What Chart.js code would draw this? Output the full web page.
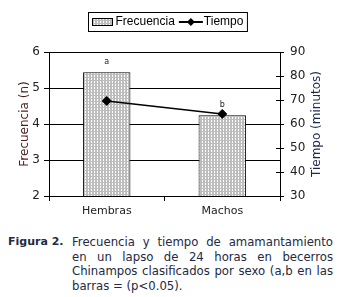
<!DOCTYPE html>
<html>
<head>
<meta charset="utf-8">
<script src="https://cdn.jsdelivr.net/npm/chart.js@4"></script>
<style>
  html, body { margin: 0; padding: 0; background: #fff; }
  #wrap { position: relative; width: 343px; height: 297px; overflow: hidden; }
  #chart { position: absolute; left: 0; top: 0; }
  .cap { position: absolute; top: 235px; font-family: "DejaVu Sans", Verdana, sans-serif; font-size: 11.7px; line-height: 14.7px; color: #232a45; }
  .cap-label { left: 8px; font-weight: bold; font-size: 11px; }
  .cap-text { left: 72px; width: 261px; }
  .cap-text div { text-align: justify; text-align-last: justify; white-space: nowrap; }
  .cap-text div.last { text-align-last: left; }
</style>
</head>
<body>
<div id="wrap">
  <canvas id="chart" width="343" height="222"></canvas>
  <div class="cap cap-label">Figura 2.</div>
  <div class="cap cap-text">
    <div>Frecuencia y tiempo de amamantamiento</div>
    <div>en un lapso de 24 horas en becerros</div>
    <div>Chinampos clasificados por sexo (a,b en las</div>
    <div class="last">barras = (p&lt;0.05).</div>
  </div>
</div>
<script>
// datos
const categorias = ["Hembras", "Machos"];
const frecuencia = [5.44, 4.24];
const tiempo = [69.6, 64.2];
const letras = ["a", "b"];

// relleno punteado de las barras
function hacerPatron() {
  const c = document.createElement("canvas");
  c.width = 3;
  c.height = 3;
  const g = c.getContext("2d");
  g.fillStyle = "#bdbdbd";
  g.fillRect(0, 0, 3, 3);
  g.fillStyle = "#ffffff";
  g.fillRect(1, 0, 1, 2);
  return g.createPattern(c, "repeat");
}
const patron = hacerPatron();

const letrasPlugin = {
  id: "letras",
  afterDatasetsDraw(chart) {
    const ctx = chart.ctx;
    const meta = chart.getDatasetMeta(0);
    ctx.save();
    ctx.font = "8px 'DejaVu Sans'";
    ctx.fillStyle = "#222";
    ctx.textAlign = "center";
    ctx.textBaseline = "bottom";
    meta.data.forEach((bar, i) => {
      ctx.fillText(letras[i], bar.x, bar.y - 6);
    });
    ctx.restore();
  }
};

const extrasPlugin = {
  id: "extras",
  afterDraw(chart) {
    const ctx = chart.ctx;
    const y1 = chart.scales.y1;
    ctx.save();
    // marcas cruzadas del eje derecho
    ctx.strokeStyle = "#000";
    ctx.lineWidth = 1;
    y1.ticks.forEach((t, i) => {
      const py = Math.round(y1.getPixelForTick(i)) + 0.5;
      ctx.beginPath();
      ctx.moveTo(y1.left - 4, py);
      ctx.lineTo(y1.left, py);
      ctx.stroke();
    });
    // titulo del eje derecho (leido de abajo hacia arriba)
    ctx.translate(317, (chart.chartArea.top + chart.chartArea.bottom) / 2);
    ctx.rotate(-Math.PI / 2);
    ctx.font = "12px 'DejaVu Sans'";
    ctx.fillStyle = "#1c2b4d";
    ctx.textAlign = "center";
    ctx.textBaseline = "middle";
    ctx.fillText("Tiempo (minutos)", 0, 0);
    ctx.restore();

    // leyenda con recuadro
    const ds = chart.data.datasets;
    ctx.save();
    ctx.font = "12px 'Liberation Sans'";
    const w1 = ctx.measureText(ds[0].label).width;
    const w2 = ctx.measureText(ds[1].label).width;
    const total = 4 + 20 + 3 + w1 + 4 + 24 + 1 + w2 + 4;
    let x = Math.round(167 - total / 2) + 0.5;
    const top = 12.5, h = 19;
    ctx.fillStyle = "#fff";
    ctx.fillRect(x, top, total, h);
    ctx.strokeStyle = "#000";
    ctx.strokeRect(x, top, total, h);
    let cx = x + 4;
    ctx.fillStyle = patron;
    ctx.fillRect(cx, 18.5, 20, 7);
    ctx.strokeRect(cx, 18.5, 20, 7);
    cx += 23;
    ctx.fillStyle = "#000";
    ctx.textBaseline = "middle";
    ctx.fillText(ds[0].label, cx, 22);
    cx += w1 + 4;
    ctx.lineWidth = 2;
    ctx.beginPath();
    ctx.moveTo(cx, 22);
    ctx.lineTo(cx + 24, 22);
    ctx.stroke();
    ctx.beginPath();
    ctx.moveTo(cx + 12, 18);
    ctx.lineTo(cx + 16, 22);
    ctx.lineTo(cx + 12, 26);
    ctx.lineTo(cx + 8, 22);
    ctx.closePath();
    ctx.fill();
    cx += 25;
    ctx.fillText(ds[1].label, cx, 22);
    ctx.restore();
  }
};

new Chart(document.getElementById("chart"), {
  type: "bar",
  data: {
    labels: categorias,
    datasets: [
      {
        type: "bar",
        label: "Frecuencia",
        data: frecuencia,
        yAxisID: "y",
        backgroundColor: patron,
        borderColor: "#000",
        borderWidth: 1,
        barPercentage: 0.41,
        categoryPercentage: 1,
        order: 1
      },
      {
        type: "line",
        label: "Tiempo",
        data: tiempo,
        yAxisID: "y1",
        borderColor: "#000",
        backgroundColor: "#000",
        borderWidth: 1.5,
        pointStyle: "rectRot",
        pointRadius: 4.5,
        pointBorderWidth: 1,
        order: 0
      }
    ]
  },
  options: {
    responsive: false,
    animation: false,
    devicePixelRatio: 1,
    layout: { padding: { top: 52, left: 0, right: 0, bottom: 0 } },
    plugins: {
      legend: { display: false },
      tooltip: { enabled: false }
    },
    scales: {
      x: {
        offset: true,
        grid: { drawOnChartArea: false, drawTicks: true, tickLength: 5, color: "#000", offset: true },
        border: { color: "#000" },
        ticks: { color: "#222", font: { family: "DejaVu Sans", size: 11 }, padding: 4 },
        afterFit(s) { s.height = 26; }
      },
      y: {
        position: "left",
        min: 2,
        max: 6,
        ticks: { stepSize: 1, color: "#222", font: { family: "DejaVu Sans", size: 12 }, padding: 4 },
        grid: { color: "#000", tickLength: 5 },
        border: { color: "#000" },
        title: {
          display: true,
          text: "Frecuencia (n)",
          color: "#4b1d1d",
          font: { family: "DejaVu Sans", size: 12 },
          padding: { top: 18, bottom: 0 }
        },
        afterFit(s) { s.width = 49; }
      },
      y1: {
        position: "right",
        min: 30,
        max: 90,
        ticks: { stepSize: 10, color: "#222", font: { family: "DejaVu Sans", size: 12 }, padding: 6 },
        grid: { drawOnChartArea: false, color: "#000", tickLength: 4 },
        border: { color: "#000" },
        afterFit(s) { s.width = 63; }
      }
    }
  },
  plugins: [letrasPlugin, extrasPlugin]
});
</script>
</body>
</html>
